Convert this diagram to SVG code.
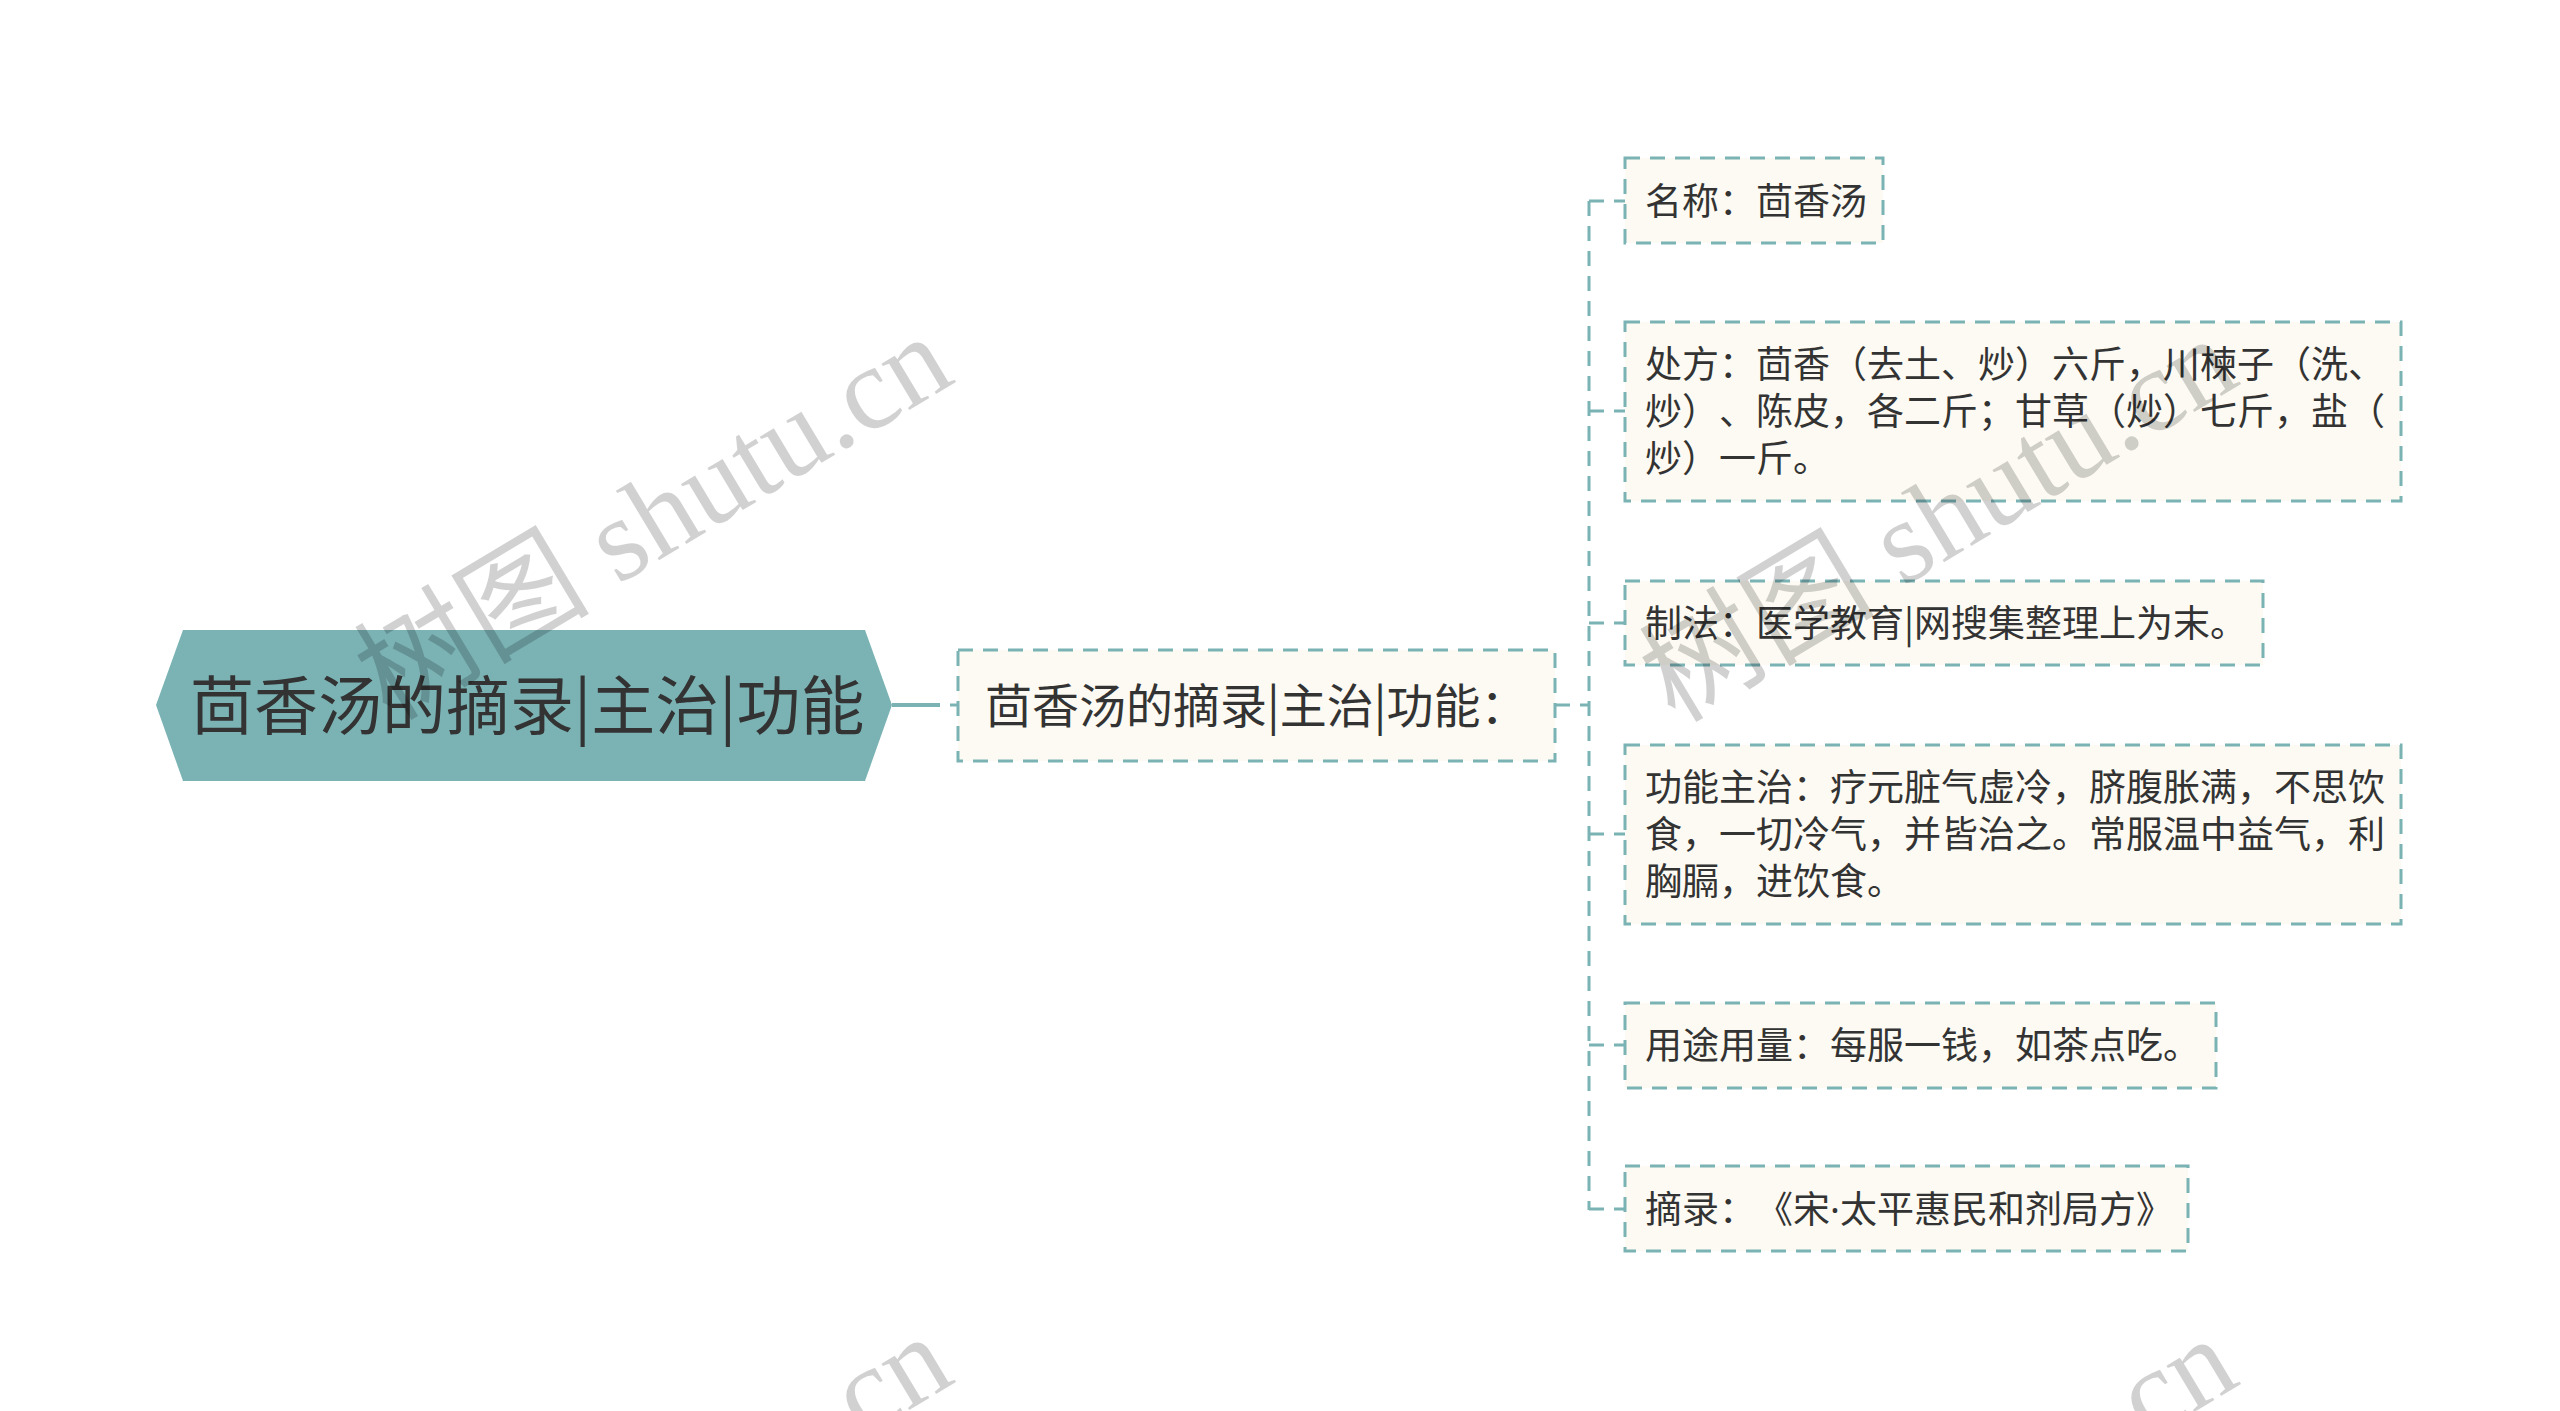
<svg xmlns="http://www.w3.org/2000/svg" width="2560" height="1411" viewBox="0 0 2560 1411">
<style>
.t{font-family:"Noto Sans CJK SC","Noto Sans",sans-serif;fill:#333333;text-spacing-trim:space-all;font-kerning:none}
.leaf rect{fill:#fcfaf2;stroke:#7bb3b5;stroke-width:3;stroke-dasharray:15 10}
.leaf text{font-size:37px}
.dash{fill:none;stroke:#7bb3b5;stroke-width:3;stroke-dasharray:15 10}
.wm{font-family:"Liberation Serif","Noto Sans CJK SC",serif;font-size:118px;fill:#000;fill-opacity:0.18}
.dot{font-family:"Noto Sans",sans-serif}
</style>
<rect width="2560" height="1411" fill="#ffffff"/>
<g id="connectors">
<line x1="892" y1="705" x2="940" y2="705" stroke="#7bb3b5" stroke-width="4"/>
<line x1="950" y1="705" x2="958" y2="705" stroke="#7bb3b5" stroke-width="3"/>
<path class="dash" d="M1555 705 H1589 M1589 201 V1210 M1589 201 H1625 M1589 411 H1625 M1589 623 H1625 M1589 834 H1625 M1589 1045 H1625 M1589 1209 H1625"/>
</g>
<g id="root">
<polygon points="156,705 183,630 865,630 892,705 865,781 183,781" fill="#7bb3b5"/>
<text class="t" x="190" y="729" font-size="64" fill="#2b2b2b">茴香汤的摘录|主治|功能</text>
</g>
<g id="mid" class="leaf">
<rect x="958" y="650" width="597" height="111"/>
<text class="t" x="985" y="723" style="font-size:47px">茴香汤的摘录|主治|功能：</text>
</g>
<g id="n1" class="leaf">
<rect x="1625" y="158" width="258" height="85"/>
<text class="t" x="1645" y="215">名称：茴香汤</text>
</g>
<g id="n2" class="leaf">
<rect x="1625" y="322" width="776" height="179"/>
<text class="t" x="1645" y="378">处方：茴香（去土、炒）六斤，川楝子（洗、</text>
<text class="t" x="1645" y="425">炒）、陈皮，各二斤；甘草（炒）七斤，盐（</text>
<text class="t" x="1645" y="472">炒）一斤。</text>
</g>
<g id="n3" class="leaf">
<rect x="1625" y="581" width="638" height="84"/>
<text class="t" x="1645" y="637">制法：医学教育|网搜集整理上为末。</text>
</g>
<g id="n4" class="leaf">
<rect x="1625" y="745" width="776" height="179"/>
<text class="t" x="1645" y="801">功能主治：疗元脏气虚冷，脐腹胀满，不思饮</text>
<text class="t" x="1645" y="848">食，一切冷气，并皆治之。常服温中益气，利</text>
<text class="t" x="1645" y="895">胸膈，进饮食。</text>
</g>
<g id="n5" class="leaf">
<rect x="1625" y="1003" width="591" height="85"/>
<text class="t" x="1645" y="1059">用途用量：每服一钱，如茶点吃。</text>
</g>
<g id="n6" class="leaf">
<rect x="1625" y="1166" width="563" height="85"/>
<text class="t" x="1645" y="1223">摘录：《宋<tspan class="dot">·</tspan>太平惠民和剂局方》</text>
</g>
<g id="watermarks">
<text class="wm" x="390" y="722" transform="rotate(-31 390 722)">树图 shutu.cn</text>
<text class="wm" x="1675" y="724" transform="rotate(-31 1675 724)">树图 shutu.cn</text>
<text class="wm" x="390" y="1722" transform="rotate(-31 390 1722)">树图 shutu.cn</text>
<text class="wm" x="1675" y="1724" transform="rotate(-31 1675 1724)">树图 shutu.cn</text>
</g>
</svg>
